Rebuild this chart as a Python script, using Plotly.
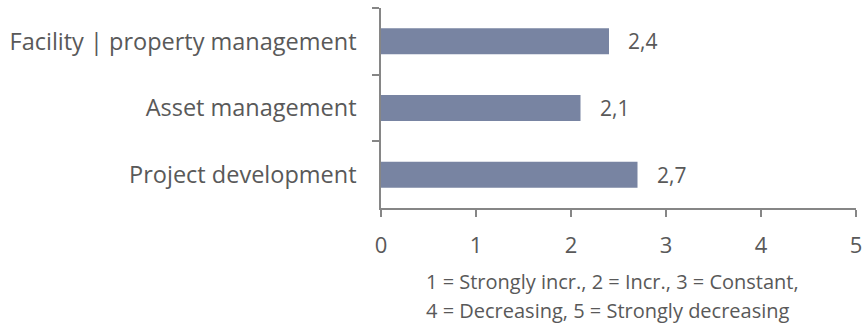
import plotly.graph_objects as go

categories = ["Facility | property management", "Asset management", "Project development"]
values = [2.4, 2.1, 2.7]
x_ticks = [0, 1, 2, 3, 4, 5]
note_lines = ["1 = Strongly incr., 2 = Incr., 3 = Constant,",
              "4 = Decreasing, 5 = Strongly decreasing"]

BAR = "#7884A2"
AXIS = "#868686"
TEXT = "#595959"
FONT = "Open Sans"

fig = go.Figure(go.Bar(
    x=values, y=categories, orientation="h",
    marker=dict(color=BAR, line=dict(width=0)),
    width=0.39,
))

# value labels to the right of each bar, decimal comma
for c, v in zip(categories, values):
    fig.add_annotation(x=v, y=c, text=f"{v:.1f}".replace(".", ","),
                       showarrow=False, xanchor="left", xshift=17,
                       font=dict(size=21, color=TEXT, family=FONT))

# scale legend under the x axis, one annotation per line
for i, line in enumerate(note_lines):
    fig.add_annotation(x=0, y=0, xref="paper", yref="paper",
                       text=line, showarrow=False,
                       xanchor="left", yanchor="middle", align="left",
                       xshift=43, yshift=-73 - 29 * i,
                       font=dict(size=20, color=TEXT, family=FONT))

fig.update_layout(
    width=862, height=323,
    margin=dict(l=381, r=6, t=8, b=115, autoexpand=False),
    plot_bgcolor="white", paper_bgcolor="white",
    showlegend=False,
    font=dict(family=FONT, color=TEXT, size=21),
    xaxis=dict(range=[0, 5], tickvals=x_ticks, showgrid=False, zeroline=False,
               automargin=False,
               showline=True, linecolor=AXIS, linewidth=1.5,
               ticks="outside", ticklen=7, tickcolor=AXIS, tickwidth=1.5,
               ticklabelstandoff=10, ticklabeloverflow="allow",
               tickfont=dict(size=22, color=TEXT)),
    yaxis=dict(categoryorder="array", categoryarray=categories, autorange="reversed",
               automargin=False,
               showgrid=False, zeroline=False, showline=True, linecolor=AXIS, linewidth=1.5,
               ticks="outside", tickson="boundaries", ticklen=7, tickcolor=AXIS,
               tickwidth=1.5, ticklabelstandoff=18, tickfont=dict(size=23.5, color=TEXT)),
)

fig.write_html("out.html")
